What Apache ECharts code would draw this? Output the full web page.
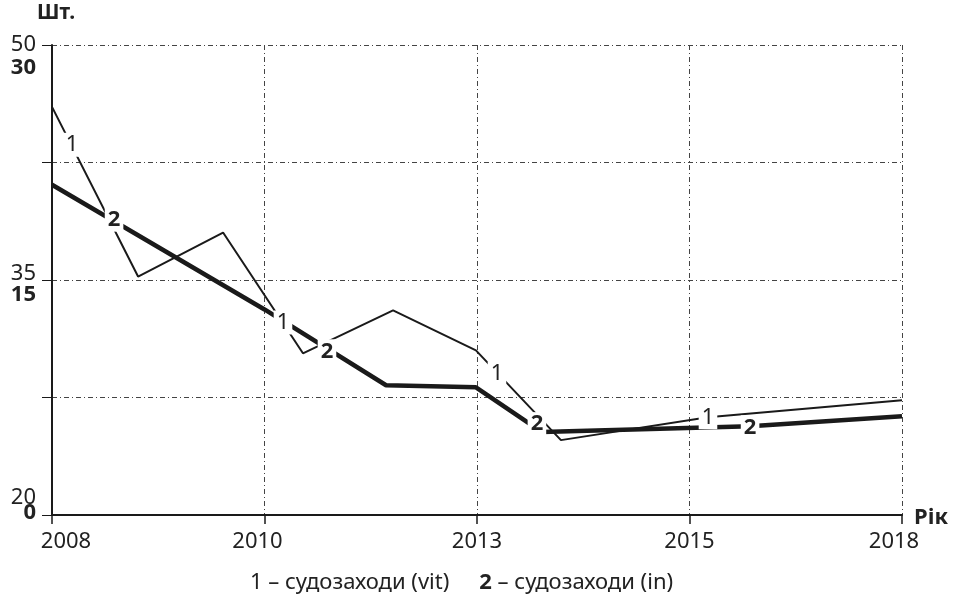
<!DOCTYPE html>
<html>
<head>
    <meta charset="utf-8" />
    <title>Судозаходи</title>
    <style>
        html, body { margin: 0; padding: 0; background: #fff; }
        #main { width: 961px; height: 602px; }
    </style>
</head>
<body>
    <div id="main"></div>
</body>
<script src="https://cdn.jsdelivr.net/npm/echarts@6/dist/echarts.min.js"></script>
<script type="text/javascript">
    // x positions are tick indexes (0..4), the years are equally spaced on the axis
    var years = ['2008', '2010', '2013', '2015', '2018'];

    // left labels: regular scale 20..50, bold scale 0..30 (same tick rows)
    var leftLabels = [50, 35, 20];
    var boldLabels = [30, 15, 0];

    // 1 - судозаходи (vit), read on the 20..50 scale
    var vitData = [
        [0, 46.05], [0.405, 35.22], [0.805, 38.03], [1.181, 30.32],
        [1.605, 33.06], [1.995, 30.51], [2.395, 24.78], [3.087, 26.24], [4, 27.32]
    ];
    // 2 - судозаходи (in), read on the 0..30 scale
    var inData = [
        [0, 21.08], [1.0, 13.12], [1.572, 8.28], [1.995, 8.15],
        [2.306, 5.29], [3.285, 5.67], [4, 6.31]
    ];
    // where the curve numbers sit on the lines
    var vitMarks = [[0.094, 43.63], [1.087, 32.29], [2.094, 29.04], [3.087, 26.24]];
    var inMarks = [[0.292, 18.85], [1.294, 10.45], [2.282, 5.80], [3.285, 5.60]];

    var chartDom = document.getElementById('main');
    var myChart = echarts.init(chartDom);
    var option;

    var FONT = '"Noto Sans", "Open Sans", sans-serif';
    var gridLine = { show: true, lineStyle: { color: '#444', width: 1, type: [5, 3, 1, 3] } };

    function markLabel(txt, bold) {
        return {
            show: true,
            position: 'inside',
            formatter: txt,
            fontSize: 22,
            fontWeight: bold ? 'bold' : 'normal',
            color: '#222',
            fontFamily: FONT,
            backgroundColor: '#fff',
            padding: [1, 3]
        };
    }

    var txt = { fontSize: 22, color: '#222', fontFamily: FONT };

    option = {
        animation: false,
        backgroundColor: '#fff',
        textStyle: { fontFamily: FONT },
        grid: { left: 52, right: 59, top: 45, bottom: 87 },
        xAxis: {
            type: 'value',
            min: 0,
            max: 4,
            interval: 1,
            axisLine: { show: true, onZero: false, lineStyle: { color: '#1a1a1a', width: 2 } },
            axisTick: { show: true, length: 9, lineStyle: { color: '#1a1a1a', width: 1.5 } },
            axisLabel: {
                margin: 16,
                fontFamily: FONT,
                formatter: function (v) {
                    var i = Math.round(v);
                    if (i === 0) return '{l|' + years[i] + '}';
                    if (i === 1) return '{r|' + years[i] + '}';
                    if (i === 4) return '{r2|' + years[i] + '}';
                    return '{c|' + years[i] + '}';
                },
                rich: {
                    c: txt,
                    l: Object.assign({ padding: [0, 0, 0, 28] }, txt),
                    r: Object.assign({ padding: [0, 14, 0, 0] }, txt),
                    r2: Object.assign({ padding: [0, 16, 0, 0] }, txt)
                }
            },
            splitLine: gridLine
        },
        yAxis: [
            {
                type: 'value',
                min: 20,
                max: 50,
                interval: 7.5,
                position: 'left',
                axisLine: { show: true, lineStyle: { color: '#1a1a1a', width: 2 } },
                axisTick: { show: true, length: 10, lineStyle: { color: '#1a1a1a', width: 1 } },
                axisLabel: {
                    margin: 16,
                    fontFamily: FONT,
                    formatter: function (v) {
                        var i = leftLabels.indexOf(v);
                        if (i === 0) return '{e|}\n{a|' + v + '}\n{b|' + boldLabels[i] + '}';
                        if (i === 1) return '{a2|' + v + '}\n{b2|' + boldLabels[i] + '}';
                        if (i === 2) return '{a3|' + v + '}\n{b3|' + boldLabels[i] + '}\n{e3|}';
                        return '';
                    },
                    rich: {
                        e: { lineHeight: 23, fontSize: 22 },
                        a: Object.assign({ lineHeight: 23 }, txt),
                        b: Object.assign({ lineHeight: 23, fontWeight: 'bold' }, txt),
                        a2: Object.assign({ lineHeight: 30 }, txt),
                        b2: Object.assign({ lineHeight: 12, fontWeight: 'bold' }, txt),
                        a3: Object.assign({ lineHeight: 15 }, txt),
                        b3: Object.assign({ lineHeight: 15, fontWeight: 'bold' }, txt),
                        e3: { lineHeight: 19, fontSize: 22 }
                    }
                },
                splitLine: gridLine
            },
            {
                type: 'value',
                min: 0,
                max: 30,
                interval: 7.5,
                position: 'left',
                axisLine: { show: false },
                axisTick: { show: false },
                axisLabel: { show: false },
                splitLine: { show: false }
            }
        ],
        graphic: [
            {
                type: 'text', left: 37, top: 3,
                style: { text: 'Шт.', font: 'bold 21px ' + FONT, fill: '#222' }
            },
            {
                type: 'text', left: 914, top: 507,
                style: { text: 'Рік', font: 'bold 22px ' + FONT, fill: '#222' }
            },
            {
                type: 'text', left: 250, top: 572,
                style: {
                    text: '{n|1 – судозаходи (vit)}{s|}{b|2}{n| – судозаходи (in)}',
                    rich: {
                        n: { fontSize: 22, fontFamily: FONT, fill: '#222' },
                        s: { width: 30 },
                        b: { fontSize: 22, fontFamily: FONT, fontWeight: 'bold', fill: '#222' }
                    }
                }
            }
        ],
        series: [
            {
                name: '1 – судозаходи (vit)',
                type: 'line',
                yAxisIndex: 0,
                data: vitData,
                symbol: 'none',
                lineStyle: { color: '#1a1a1a', width: 2 },
                z: 2
            },
            {
                name: '2 – судозаходи (in)',
                type: 'line',
                yAxisIndex: 1,
                data: inData,
                symbol: 'none',
                lineStyle: { color: '#1a1a1a', width: 4.5 },
                z: 2
            },
            {
                type: 'scatter',
                yAxisIndex: 0,
                data: vitMarks,
                symbolSize: 1,
                itemStyle: { color: '#fff', opacity: 1 },
                z: 5,
                label: markLabel('1', false)
            },
            {
                type: 'scatter',
                yAxisIndex: 1,
                data: inMarks,
                symbolSize: 1,
                itemStyle: { color: '#fff', opacity: 1 },
                z: 5,
                label: markLabel('2', true)
            }
        ]
    };

    option && myChart.setOption(option);
</script>
</html>
